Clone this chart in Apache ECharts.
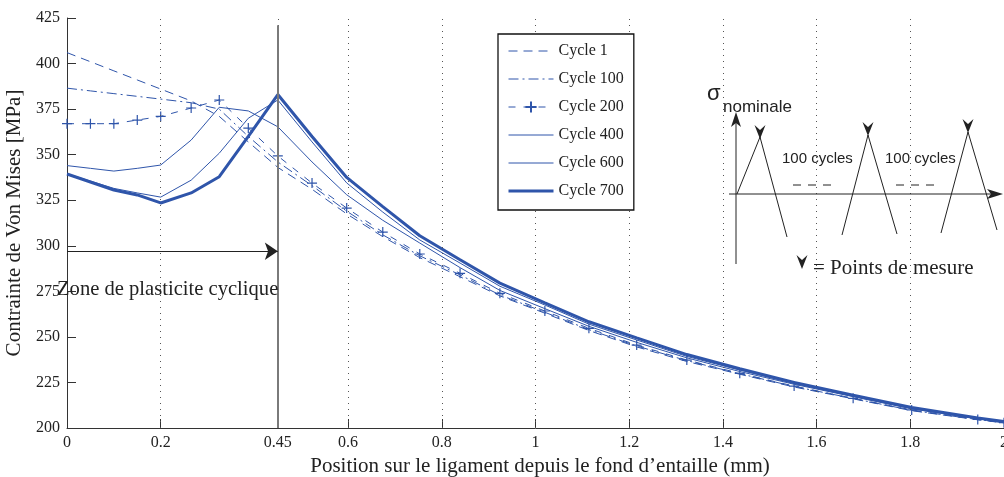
<!DOCTYPE html>
<html><head><meta charset="utf-8">
<script src="https://cdn.jsdelivr.net/npm/echarts@6/dist/echarts.min.js"></script>
<style>html,body{margin:0;padding:0;background:#fff}#c{width:1004px;height:477px}</style>
</head><body><div id="c"></div>
<script>
// Position along the ligament (mm)
const positions = [0, 0.05, 0.1, 0.15, 0.2, 0.265, 0.325, 0.387, 0.45, 0.523, 0.597, 0.674, 0.753, 0.839, 0.924, 1.02, 1.114, 1.216, 1.323, 1.436, 1.552, 1.678, 1.803, 1.944, 2.0];
// Von Mises stress (MPa) per cycle
const cycle1   = [406, 401, 396, 391, 386, 379.5, 371, 357, 343, 331, 317.5, 305, 293.5, 283, 272.5, 263, 253.5, 244.5, 236.5, 229.5, 222.5, 216, 209.5, 204.5, 202.8];
const cycle100 = [386.5, 385, 383.5, 382, 380.5, 378.5, 375, 360, 346, 333, 319, 306, 294.5, 284, 273, 263.5, 254, 245, 237, 229.8, 222.8, 216.2, 209.7, 204.6, 202.9];
const cycle200 = [367, 367, 367, 369, 371, 375.6, 380, 364.6, 349.3, 334.4, 320.7, 307.5, 295.5, 284.9, 273.9, 264.2, 254.7, 245.5, 237.3, 230, 223, 216.3, 209.9, 204.7, 202.9];
const cycle400 = [344, 342.5, 341, 342.5, 344.3, 358, 376, 374, 365.3, 346, 328, 314, 301.5, 288, 275.5, 265.5, 255.8, 247, 238.5, 231, 224, 217.2, 210.5, 205, 203.1];
const cycle600 = [339.5, 335.5, 331.5, 329, 326.7, 336, 350.8, 370, 380, 357, 334.5, 318.5, 303.2, 290.5, 277.8, 267.5, 257, 248.3, 239.3, 231.8, 224.5, 217.6, 210.8, 205.2, 203.3];
const cycle700 = [339.4, 335, 330.6, 327.9, 323.5, 329, 337.9, 360, 383, 360, 337.5, 321.5, 305.5, 292.3, 279.5, 268.7, 258.3, 249.5, 240.3, 232.5, 225, 218, 211.2, 205.5, 203.5];
const seriesNames = ['Cycle 1', 'Cycle 100', 'Cycle 200', 'Cycle 400', 'Cycle 600', 'Cycle 700'];
// Axis ticks
const xTicks = [0, 0.2, 0.45, 0.6, 0.8, 1, 1.2, 1.4, 1.6, 1.8, 2];
const yMin = 200, yMax = 425, yStep = 25;
// Annotation values
const zoneLimit = 0.45;
const zoneLineTop = 421;
const zoneArrowLevel = 297;
const zoneLabel = 'Zone de plasticite cyclique';

const BLUE = '#2f55aa';
const INK = '#222';
const SERIF = '"Liberation Serif", "DejaVu Serif", serif';
const SANS = '"Liberation Sans", Arial, sans-serif';

const pts = vals => positions.map((x, i) => [x, vals[i]]);
const plusSymbol = 'path://M5,0L5,10M0,5L10,5';

const chart = echarts.init(document.getElementById('c'), null, {renderer: 'canvas'});

const styles = [
  {data: cycle1, lineStyle: {width: 1, type: [9, 6]}},
  {data: cycle100, lineStyle: {width: 1, type: [10, 4, 2, 4]}},
  {data: cycle200, lineStyle: {width: 1, type: [7, 8]}, symbol: plusSymbol},
  {data: cycle400, lineStyle: {width: 1, type: 'solid'}},
  {data: cycle600, lineStyle: {width: 1, type: 'solid'}},
  {data: cycle700, lineStyle: {width: 3, type: 'solid'}}
];

const series = styles.map((s, i) => ({
  name: seriesNames[i],
  type: 'line',
  z: 3,
  data: pts(s.data),
  symbol: s.symbol || 'none',
  symbolSize: 10,
  showSymbol: !!s.symbol,
  itemStyle: s.symbol ? {color: 'rgba(0,0,0,0)', borderColor: BLUE, borderWidth: 1.2} : {color: BLUE},
  lineStyle: Object.assign({color: BLUE}, s.lineStyle),
  animation: false,
  silent: true
}));

// grid lines + annotations
series.push({
  type: 'line', z: 1, data: [], silent: true, animation: false,
  markLine: {
    silent: true, symbol: 'none', animation: false,
    label: {show: false},
    lineStyle: {type: [1, 5], color: '#555', width: 1},
    data: xTicks.filter(v => v > 0 && v < 2).map(v => ({xAxis: v}))
  }
});
series.push({
  type: 'line', z: 2, data: [], silent: true, animation: false,
  markLine: {
    silent: true, symbol: 'none', animation: false,
    label: {show: false},
    lineStyle: {type: 'solid', color: '#7a7a7a', width: 2},
    data: [[{coord: [zoneLimit, yMin]}, {coord: [zoneLimit, zoneLineTop]}]]
  }
});
series.push({
  type: 'line', z: 4, data: [], silent: true, animation: false,
  markLine: {
    silent: true, symbol: ['none', 'arrow'], symbolSize: 13, animation: false,
    label: {show: false},
    lineStyle: {type: 'solid', color: INK, width: 1},
    data: [[{coord: [0, zoneArrowLevel]}, {coord: [zoneLimit, zoneArrowLevel]}]]
  }
});

// inset diagram (loading scheme)
const chevron = (cx, cy) => ({
  type: 'polygon', z: 10,
  shape: {points: [[cx - 5.5, cy - 8], [cx, cy - 3], [cx + 5.5, cy - 8], [cx, cy + 6]]},
  style: {fill: INK}
});
const ln = (pts, extra) => Object.assign({type: 'polyline', z: 10, shape: {points: pts}, style: Object.assign({stroke: INK, lineWidth: 1, fill: null}, extra || {})});
const txt = (x, y, text, font) => ({type: 'text', z: 10, style: {x, y, text, font, fill: INK, align: 'left', verticalAlign: 'middle'}});

const graphics = [
  txt(57, 290, zoneLabel, '20.6px ' + SERIF),
  ln([[736, 264], [736, 122]]),
  {type: 'polygon', z: 10, shape: {points: [[736, 112], [731, 127], [736, 123], [741, 127]]}, style: {fill: INK}},
  ln([[729, 194], [992, 194]]),
  {type: 'polygon', z: 10, shape: {points: [[1003, 194], [987, 189], [991, 194], [987, 199]]}, style: {fill: INK}},
  ln([[737, 194], [760, 137], [787, 237]]),
  ln([[842, 235], [868, 135], [897, 234]]),
  ln([[941, 233], [968, 132], [997, 230]]),
  chevron(760, 133), chevron(868, 130), chevron(968, 127), chevron(802, 263),
  ln([[793, 185], [838, 185]], {lineDash: [8, 7]}),
  ln([[896, 185], [941, 185]], {lineDash: [8, 7]}),
  txt(782, 159, '100 cycles', '15px ' + SANS),
  txt(885, 159, '100 cycles', '15px ' + SANS),
  txt(707, 94, 'σ', '22px ' + SANS),
  txt(723, 107, 'nominale', '17px ' + SANS),
  txt(813, 268, '= Points de mesure', '21px ' + SERIF)
];

const hiddenMark = {color: 'rgba(0,0,0,0)', borderColor: 'rgba(0,0,0,0)', borderWidth: 0};
const legendData = seriesNames.map((n, i) => {
  const item = {name: n, lineStyle: {width: styles[i].lineStyle.width}};
  if (!styles[i].symbol) item.itemStyle = hiddenMark;
  return item;
});

chart.setOption({
  animation: false,
  backgroundColor: '#fff',
  grid: {left: 67, right: 0, top: 18, bottom: 49, containLabel: false, outerBoundsMode: 'none'},
  legend: {
    data: legendData,
    orient: 'vertical',
    left: 498, top: 34,
    padding: [9, 10, 11, 9],
    itemWidth: 45, itemHeight: 14, itemGap: 12,
    borderColor: '#111', borderWidth: 1.3,
    backgroundColor: '#fff',
    textStyle: {fontFamily: SERIF, fontSize: 16, color: INK},
    selectedMode: false,
    z: 20
  },
  xAxis: {
    type: 'value', min: 0, max: 2,
    axisLine: {show: true, onZero: false, lineStyle: {color: '#333', width: 1}},
    axisTick: {show: true, inside: true, length: 9, customValues: xTicks, lineStyle: {color: '#333'}},
    axisLabel: {customValues: xTicks, fontFamily: SERIF, fontSize: 16, color: INK, margin: 7,
      showMinLabel: true, showMaxLabel: true, hideOverlap: false},
    splitLine: {show: false},
    name: 'Position sur le ligament depuis le fond d’entaille (mm)',
    nameLocation: 'middle', nameGap: 26,
    nameTextStyle: {fontFamily: SERIF, fontSize: 21, color: INK, padding: [0, 0, 0, 9]}
  },
  yAxis: {
    type: 'value', min: yMin, max: yMax, interval: yStep,
    axisLine: {show: true, onZero: false, lineStyle: {color: '#333', width: 1}},
    axisTick: {show: true, inside: true, length: 9, lineStyle: {color: '#333'}},
    axisLabel: {fontFamily: SERIF, fontSize: 16, color: INK, margin: 7},
    splitLine: {show: false},
    name: 'Contrainte de Von Mises [MPa]',
    nameLocation: 'middle', nameGap: 39,
    nameTextStyle: {fontFamily: SERIF, fontSize: 21, color: INK}
  },
  series: series,
  graphic: graphics
});
</script></body></html>
